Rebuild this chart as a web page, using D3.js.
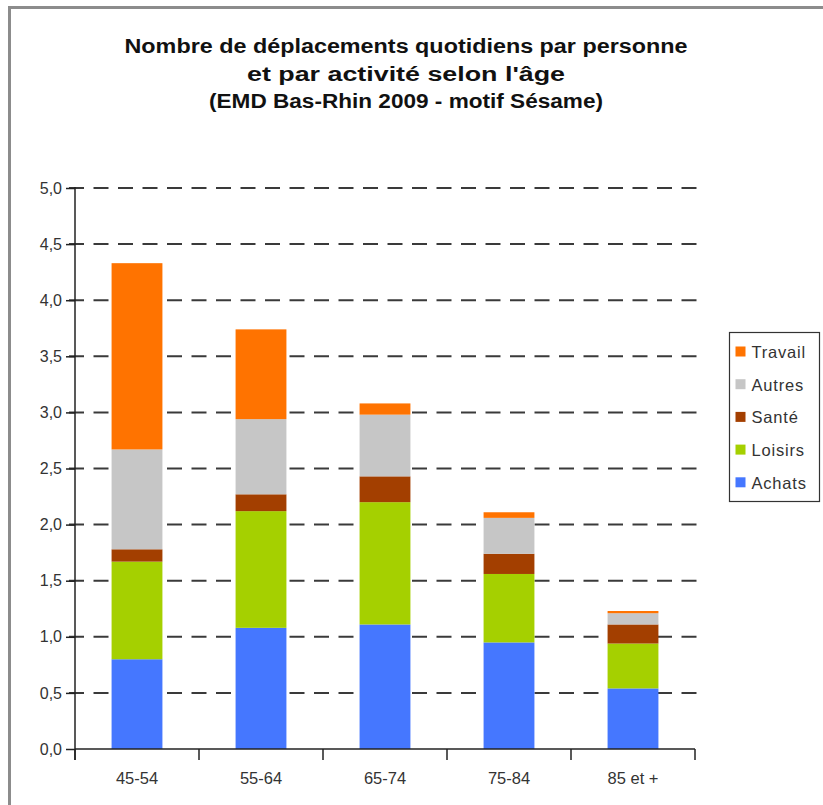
<!DOCTYPE html>
<html>
<head>
<meta charset="utf-8">
<script src="https://cdn.jsdelivr.net/npm/d3@7"></script>
<style>
  body { margin: 0; background: #fff; }
  text { font-family: "Liberation Sans", Arial, sans-serif; }
</style>
</head>
<body>
<svg id="chart" width="823" height="805"></svg>
<script>
// data
var categories = ["45-54", "55-64", "65-74", "75-84", "85 et +"];
var achats  = [0.80, 1.08, 1.11, 0.95, 0.54];
var loisirs = [0.87, 1.04, 1.09, 0.61, 0.40];
var sante   = [0.11, 0.15, 0.23, 0.18, 0.17];
var autres  = [0.89, 0.67, 0.55, 0.32, 0.10];
var travail = [1.66, 0.80, 0.10, 0.05, 0.02];
var seriesNames = ["Achats", "Loisirs", "Santé", "Autres", "Travail"];
var seriesColors = ["#4577ff", "#a5d000", "#a33f00", "#c6c6c6", "#ff7300"];
var yTicks = [0, 0.5, 1, 1.5, 2, 2.5, 3, 3.5, 4, 4.5, 5];
var titleLines = [
    "Nombre de déplacements quotidiens par personne",
    "et par activité selon l'âge",
    "(EMD Bas-Rhin 2009 - motif Sésame)"
];

var rows = categories.map(function(c, i) {
    return {cat: c, "Achats": achats[i], "Loisirs": loisirs[i], "Santé": sante[i],
            "Autres": autres[i], "Travail": travail[i]};
});

var svg = d3.select("#chart");

// page frame
svg.append("path")
    .attr("d", "M9.5,805V7.5H823")
    .attr("fill", "none")
    .attr("stroke", "#8c8c8c")
    .attr("stroke-width", 3);

// title
var titleW = [563, 318, 394];
svg.selectAll(".title").data(titleLines).enter()
    .append("text")
    .attr("class", "title")
    .attr("x", 406)
    .attr("y", function(d, i) { return 53 + i * 27.5; })
    .attr("text-anchor", "middle")
    .attr("font-size", 20)
    .attr("font-weight", "bold")
    .attr("fill", "#111")
    .attr("textLength", function(d, i) { return titleW[i]; })
    .attr("lengthAdjust", "spacingAndGlyphs")
    .text(function(d) { return d; });

var plotL = 75, plotR = 695, plotT = 188, plotB = 749;

var x = d3.scaleBand()
    .domain(categories)
    .range([plotL, plotR])
    .paddingInner(0.59)
    .paddingOuter(0.295);

var y = d3.scaleLinear()
    .domain([0, 5])
    .range([plotB, plotT]);

var color = d3.scaleOrdinal().domain(seriesNames).range(seriesColors);

// dashed grid lines
svg.append("g").selectAll("line")
    .data(yTicks.filter(function(d) { return d > 0; }))
    .enter().append("line")
    .attr("x1", 69).attr("x2", plotR + 1.5)
    .attr("y1", function(d) { return y(d); })
    .attr("y2", function(d) { return y(d); })
    .attr("stroke", "#3a3a3a")
    .attr("stroke-width", 2)
    .attr("stroke-dasharray", "15,9.5");

// stacked bars
var stack = d3.stack().keys(seriesNames);
var layers = stack(rows);

svg.append("g").selectAll("g")
    .data(layers)
    .enter().append("g")
    .attr("fill", function(d) { return color(d.key); })
    .selectAll("rect")
    .data(function(d) { return d; })
    .enter().append("rect")
    .attr("x", function(d) { return x(d.data.cat); })
    .attr("width", x.bandwidth())
    .attr("y", function(d) { return y(d[1]); })
    .attr("height", function(d) { return y(d[0]) - y(d[1]); });

// y axis
var yAxis = d3.axisLeft(y)
    .tickValues(yTicks)
    .tickSize(9)
    .tickPadding(4)
    .tickFormat(function(d) { return d3.format(".1f")(d).replace(".", ","); });

var gy = svg.append("g")
    .attr("transform", "translate(" + plotL + ",0)")
    .call(yAxis);
gy.select(".domain").remove();
gy.selectAll(".tick line").attr("stroke", "#222").attr("stroke-width", 1.5);
gy.selectAll(".tick text")
    .attr("font-size", 16)
    .attr("fill", "#333")
    .style("font-family", "'Liberation Sans', Arial, sans-serif");
gy.append("line")
    .attr("x1", 0).attr("x2", 0)
    .attr("y1", plotT - 1).attr("y2", plotB + 11)
    .attr("stroke", "#222").attr("stroke-width", 1.5);

// x axis
var gx = svg.append("g")
    .attr("transform", "translate(0," + plotB + ")");
gx.append("line")
    .attr("x1", plotL).attr("x2", plotR)
    .attr("stroke", "#222").attr("stroke-width", 1.5);
var bounds = d3.range(categories.length + 1).map(function(i) { return plotL + i * x.step(); });
gx.selectAll(".bt").data(bounds).enter()
    .append("line")
    .attr("class", "bt")
    .attr("x1", function(d) { return d; }).attr("x2", function(d) { return d; })
    .attr("y1", 0).attr("y2", 11)
    .attr("stroke", "#222").attr("stroke-width", 1.5);
gx.selectAll(".lab").data(categories).enter()
    .append("text")
    .attr("class", "lab")
    .attr("x", function(d) { return x(d) + x.bandwidth() / 2; })
    .attr("y", 35)
    .attr("text-anchor", "middle")
    .attr("font-size", 16.5)
    .attr("fill", "#333")
    .text(function(d) { return d; });

// legend
var legend = svg.append("g").attr("transform", "translate(729.5,332.5)");
legend.append("rect")
    .attr("width", 90).attr("height", 169)
    .attr("fill", "#fff")
    .attr("stroke", "#333").attr("stroke-width", 1.2);
var legendItems = seriesNames.slice().reverse();
var li = legend.selectAll(".li").data(legendItems).enter()
    .append("g")
    .attr("class", "li")
    .attr("transform", function(d, i) { return "translate(6," + (20 + i * 32.7) + ")"; });
li.append("rect")
    .attr("x", 0).attr("y", -6)
    .attr("width", 10).attr("height", 10)
    .attr("fill", function(d) { return color(d); });
li.append("text")
    .attr("x", 16).attr("y", 5.5)
    .attr("font-size", 16.5)
    .attr("letter-spacing", 0.8)
    .attr("fill", "#333")
    .text(function(d) { return d; });
</script>
</body>
</html>
